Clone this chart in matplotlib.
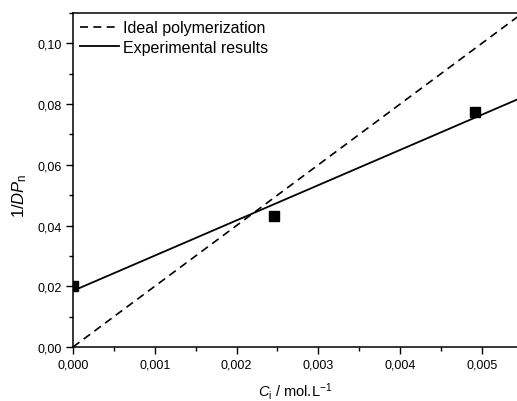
import numpy as np
import matplotlib
matplotlib.use('Agg')
import matplotlib.pyplot as plt
from matplotlib.ticker import MultipleLocator, FuncFormatter

plt.rcParams['font.family'] = ['Liberation Sans', 'DejaVu Sans']
plt.rcParams['mathtext.fontset'] = 'custom'
plt.rcParams['mathtext.it'] = 'Liberation Sans:italic'
plt.rcParams['mathtext.rm'] = 'Liberation Sans'

# measured points
conc = [0.0, 0.00246, 0.00492]
inv_dp = [0.0200, 0.0432, 0.0775]

# lines
ideal_slope = 20.0
exp_slope = 11.6
exp_intercept = 0.0185
x_line = [0.0, 0.0055]

fig = plt.figure(figsize=(5.17, 4.02), dpi=100)
ax = fig.add_axes([73/517, 54/402, 1 - 73/517, 334/402])

xl = np.array(x_line)
ax.plot(xl, ideal_slope * xl, color='black', lw=1.2, linestyle=(0, (4.8, 3.2)),
        label='Ideal polymerization')
ax.plot(xl, exp_intercept + exp_slope * xl, color='black', lw=1.3,
        label='Experimental results')
ax.plot(conc, inv_dp, 's', color='black', ms=7, zorder=5)

ax.set_xlim(0, 0.00543)
ax.set_ylim(0, 0.110)

ax.xaxis.set_major_locator(MultipleLocator(0.001))
ax.xaxis.set_minor_locator(MultipleLocator(0.0005))
ax.yaxis.set_major_locator(MultipleLocator(0.02))
ax.yaxis.set_minor_locator(MultipleLocator(0.01))
ax.xaxis.set_major_formatter(FuncFormatter(lambda v, p: f'{v:.3f}'.replace('.', ',')))
ax.yaxis.set_major_formatter(FuncFormatter(lambda v, p: f'{v:.2f}'.replace('.', ',')))
ax.tick_params(which='both', direction='out', labelsize=9, width=1, top=False, right=False)
ax.tick_params(which='major', length=5, pad=3)
ax.tick_params(which='minor', length=3)

ax.spines['right'].set_visible(False)
for s in ['left', 'bottom', 'top']:
    ax.spines[s].set_linewidth(1.1)

ax.set_xlabel(r'$C_{\mathrm{i}}$ / mol.L$^{\mathrm{-1}}$', fontsize=10.5)
ax.set_ylabel(r'1/$DP_{\mathrm{n}}$', fontsize=12)
ax.xaxis.set_label_coords(0.5, -0.10)
ax.yaxis.set_label_coords(-0.10, 0.455)

ax.legend(loc='upper left', frameon=False, fontsize=11.5, handlelength=2.4,
          handletextpad=0.3, labelspacing=0.3, borderaxespad=0.2,
          borderpad=0.25)

fig.savefig('out.png', dpi=100)
